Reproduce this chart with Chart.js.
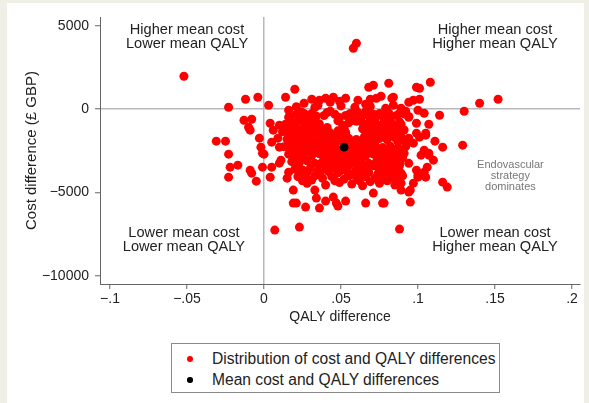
<!DOCTYPE html>
<html>
<head>
<meta charset="utf-8">
<script src="https://cdn.jsdelivr.net/npm/chart.js@4.4.1/dist/chart.umd.min.js"></script>
<style>
  body { margin: 0; background: #efefe6; }
  #frame { position: absolute; left: 7px; top: 3px; width: 577px; height: 400px; background: #fff; }
  #wrap { position: absolute; left: 0; top: 0; width: 589px; height: 403px; }
  #legend {
    position: absolute; left: 171px; top: 343px; width: 327px; height: 48px;
    border: 1px solid #8a8a8a; background: #fff;
    font: 15.6px "Liberation Sans", Arial, sans-serif; color: #222;
  }
  .item { position: absolute; left: 40px; height: 20px; line-height: 20px; white-space: nowrap; }
  .dot { position: absolute; border-radius: 50%; }
</style>
</head>
<body>
<div id="frame"></div>
<div id="wrap"><canvas id="ceChart" width="589" height="403"></canvas></div>
<div id="legend"></div>

<script>
// ========== Data (QALY difference, cost difference in £) ==========
const xTicks = [-0.1, -0.05, 0, 0.05, 0.1, 0.15, 0.2];
const yTicks = [-10000, -5000, 0, 5000];

const seriesLabels = ['Distribution of cost and QALY differences', 'Mean cost and QALY differences'];

// scattered replicates away from the main cloud
const outlierPairs = [
  [-0.052, 1980], [-0.023, 120], [-0.012, 600], [-0.004, 720], [0.003, 240], [0.014, 720], [0.020, 1200],
  [-0.013, -660], [-0.008, -600], [-0.010, -1080], [-0.009, -1260], [-0.031, -1920], [-0.025, -1920],
  [-0.023, -2700], [-0.022, -3480], [-0.017, -3360], [-0.023, -4080], [-0.009, -3660], [-0.008, -3840],
  [-0.005, -4320], [-0.001, -3480], [0.004, -4080], [0.007, -7260], [-0.003, -1740], [-0.002, -2280],
  [0.000, -2700], [-0.001, -2640], [0.004, -840], [0.006, -1260], [0.010, -960], [0.009, -1740],
  [0.005, -1980], [0.010, -2280], [0.018, -1560], [0.016, -2280], [0.005, -3480], [0.010, -3240],
  [0.011, -3060], [0.015, -4140], [0.016, -3780], [0.019, -4860], [0.019, -5640], [0.021, -5640],
  [0.023, -7080], [0.027, -5880], [0.034, -5340], [0.036, -5940], [0.040, -5520], [0.045, -5280],
  [0.047, -5640], [0.048, -5820], [0.053, -5520], [0.066, -5640], [0.077, -5640], [0.071, -5040],
  [0.033, -4860], [0.089, -4860], [0.094, -4980], [0.095, -5580], [0.088, -7200],
  [0.060, 3960], [0.058, 3660], [0.068, 1320], [0.071, 1440], [0.081, 1560], [0.099, 1320], [0.101, 1260],
  [0.108, 1620], [0.053, 660], [0.073, 660], [0.076, 780], [0.083, 660], [0.084, 720], [0.094, 420],
  [0.097, 540], [0.101, 600], [0.026, 360], [0.036, 540], [0.040, 660], [0.045, 720], [0.035, 240],
  [0.084, 240], [0.089, 60], [0.100, -60], [0.104, -240], [0.114, -360], [0.130, -120], [0.140, 360],
  [0.152, 600], [0.094, -480], [0.099, -840], [0.107, -900], [0.105, -1440], [0.099, -1440],
  [0.094, -1740], [0.111, -1920], [0.116, -2280], [0.129, -2160], [0.104, -2460], [0.097, -2040],
  [0.107, -2640], [0.105, -1560], [0.101, -1680], [0.078, -2880], [0.088, -3240], [0.081, -3240],
  [0.084, -3660], [0.086, -4080], [0.089, -4440], [0.097, -4440], [0.100, -3960], [0.105, -4080],
  [0.104, -3780], [0.099, -3660], [0.106, -3480], [0.110, -3060], [0.107, -2760], [0.102, -2760],
  [0.116, -4380], [0.119, -4680], [0.078, -5640], [0.100, -4080], [0.095, -4860]
];

// dense central cloud
const clusterPairs = [
  [0.021, 150], [0.033, 100], [0.050, 200], [0.059, 120], [0.069, 160], [0.079, 60], [0.092, -120],
  [0.031, 600], [0.049, 480], [0.061, 540], [0.066, 300], [0.016, -60], [0.016, -480],
  [0.043, 420], [0.069, 600],
  [0.043, -120], [0.024, -150], [0.066, -150],
  [0.031, -250], [0.041, -200], [0.046, -300], [0.056, -250], [0.061, -200], [0.071, -300], [0.081, -220],
  [0.091, -280], [0.026, -260],
  [0.021, -300], [0.039, -380], [0.062, -330], [0.075, -250], [0.088, -250],
  [0.017, -450], [0.024, -380], [0.029, -560], [0.034, -420], [0.049, -500], [0.053, -380], [0.058, -600],
  [0.063, -450], [0.067, -350], [0.072, -580], [0.077, -420], [0.082, -520], [0.086, -380], [0.094, -440],
  [0.022, -700], [0.032, -750], [0.048, -700], [0.060, -720], [0.078, -680], [0.088, -760],
  [0.018, -800], [0.028, -650], [0.057, -680], [0.064, -820], [0.069, -650], [0.083, -850],
  [0.014, -900], [0.020, -1000], [0.026, -850], [0.031, -980], [0.036, -880], [0.051, -950], [0.055, -820],
  [0.066, -1000], [0.070, -880], [0.075, -960], [0.080, -850], [0.085, -1020], [0.089, -900],
  [0.016, -1100], [0.025, -1150], [0.035, -1100], [0.052, -1150], [0.064, -1180], [0.073, -1100], [0.083, -1150],
  [0.021, -1200], [0.030, -1150], [0.041, -1100], [0.069, -1150], [0.079, -1180], [0.088, -1150],
  [0.012, -1350], [0.018, -1250], [0.023, -1400], [0.028, -1300], [0.033, -1380], [0.038, -1250], [0.043, -1420],
  [0.048, -1300], [0.053, -1380], [0.068, -1300], [0.072, -1420], [0.077, -1280], [0.082, -1400], [0.087, -1330], [0.091, -1250],
  [0.016, -1550], [0.026, -1600], [0.036, -1550], [0.046, -1600], [0.066, -1520], [0.074, -1600],
  [0.084, -1560],
  [0.021, -1600], [0.031, -1500], [0.041, -1650], [0.051, -1500], [0.070, -1600],
  [0.079, -1650], [0.089, -1650],
  [0.015, -1800], [0.020, -1750], [0.025, -1850], [0.030, -1720], [0.035, -1880], [0.040, -1780], [0.045, -1700],
  [0.050, -1850], [0.055, -1750], [0.060, -1820], [0.065, -1700], [0.070, -1880], [0.075, -1760], [0.080, -1840],
  [0.085, -1720], [0.090, -1800],
  [0.017, -1950], [0.027, -1950], [0.037, -2000], [0.047, -1950], [0.057, -1950], [0.067, -1980],
  [0.087, -1950],
  [0.022, -2000], [0.032, -2080], [0.042, -2000], [0.052, -2100], [0.062, -2020], [0.072, -2080],
  [0.092, -2060],
  [0.013, -2250], [0.018, -2300], [0.023, -2200], [0.028, -2320], [0.033, -2180], [0.038, -2280], [0.043, -2220],
  [0.047, -2350], [0.057, -2200], [0.062, -2320], [0.067, -2240], [0.072, -2180], [0.077, -2300], [0.082, -2220],
  [0.087, -2350], [0.092, -2250],
  [0.024, -2400], [0.034, -2400], [0.044, -2420], [0.054, -2380], [0.064, -2420], [0.074, -2400],
  [0.084, -2400],
  [0.019, -2500], [0.029, -2450], [0.039, -2520], [0.049, -2480], [0.059, -2500], [0.069, -2450], [0.079, -2520],
  [0.089, -2480],
  [0.016, -2700], [0.021, -2750], [0.026, -2650], [0.031, -2780], [0.036, -2680], [0.041, -2720], [0.046, -2800],
  [0.051, -2650], [0.056, -2750], [0.061, -2680], [0.066, -2800], [0.071, -2700], [0.076, -2620], [0.081, -2780],
  [0.086, -2700], [0.091, -2650],
  [0.025, -2850], [0.045, -2900], [0.055, -2850], [0.075, -2850],
  [0.085, -2850],
  [0.020, -2950], [0.040, -2980], [0.050, -2920], [0.060, -2960], [0.080, -2980], [0.090, -2920],
  [0.018, -3150], [0.023, -3200], [0.028, -3100], [0.033, -3250], [0.038, -3150], [0.043, -3080], [0.048, -3220],
  [0.053, -3120], [0.058, -3200], [0.063, -3100], [0.068, -3250], [0.073, -3150], [0.078, -3080], [0.083, -3200],
  [0.088, -3120], [0.094, -3250],
  [0.036, -3300], [0.046, -3350], [0.051, -3400], [0.061, -3350], [0.071, -3400],
  [0.082, -3350],
  [0.021, -3400], [0.041, -3420], [0.055, -3380], [0.067, -3420], [0.077, -3350], [0.088, -3400],
  [0.020, -3600], [0.025, -3650], [0.030, -3550], [0.035, -3700], [0.040, -3600], [0.045, -3520], [0.050, -3680],
  [0.060, -3600], [0.065, -3550], [0.075, -3600], [0.080, -3650], [0.086, -3550],
  [0.028, -3780], [0.042, -3750], [0.054, -3750], [0.057, -3880], [0.068, -3800], [0.079, -3800], [0.089, -3850],
  [0.024, -3850], [0.036, -3880], [0.048, -3820], [0.063, -3850], [0.074, -3880], [0.085, -3820],
  [0.022, -4050], [0.027, -4100], [0.033, -4000], [0.038, -4150], [0.044, -4050], [0.055, -4000], [0.060, -4100],
  [0.066, -4050], [0.072, -4150], [0.077, -4000], [0.083, -4100], [0.090, -4000],
  [0.025, -4300], [0.031, -4250], [0.046, -4300], [0.052, -4200], [0.062, -4300], [0.069, -4350], [0.080, -4300], [0.087, -4250],
  [0.028, -4450], [0.040, -4550], [0.049, -4400], [0.057, -4500], [0.064, -4600], [0.075, -4450], [0.085, -4550]
];

const meanQaly = [0.052];
const meanCost = [-2280];

// ========== Helpers ==========
const FONT = '"Liberation Sans", Arial, sans-serif';
const RED = '#ff0000';

function fmtX(v) {
  if (v === 0) return '0';
  return (v < 0 ? '\u2212' : '') + String(Math.abs(v)).replace(/^0/, '');
}
function fmtY(v) {
  return v < 0 ? '\u2212' + Math.abs(v) : String(v);
}

const quadrantNotes = {
  id: 'quadrantNotes',
  afterDraw(chart) {
    const { ctx, scales: { x, y } } = chart;
    ctx.save();
    ctx.textAlign = 'center';
    ctx.textBaseline = 'middle';
    ctx.font = '14.6px ' + FONT;
    ctx.fillStyle = '#222';
    const notes = [
      [-0.05, 4740, ['Higher mean cost', 'Lower mean QALY']],
      [0.15, 4740, ['Higher mean cost', 'Higher mean QALY']],
      [-0.052, -7450, ['Lower mean cost', 'Lower mean QALY']],
      [0.15, -7450, ['Lower mean cost', 'Higher mean QALY']]
    ];
    notes.forEach(([qx, cy, lines]) => {
      const px = x.getPixelForValue(qx);
      const py = y.getPixelForValue(cy);
      lines.forEach((t, i) => ctx.fillText(t, px, py + i * 14));
    });
    // dominance note
    ctx.font = '11px ' + FONT;
    ctx.fillStyle = '#777';
    const dx = x.getPixelForValue(0.160);
    const dy = y.getPixelForValue(-3360);
    ['Endovascular', 'strategy', 'dominates'].forEach((t, i) => ctx.fillText(t, dx, dy + i * 11));
    ctx.restore();
  }
};

// ========== Chart ==========
const chart = new Chart(document.getElementById('ceChart'), {
  type: 'scatter',
  data: {
    datasets: [
      {
        label: seriesLabels[1],
        data: meanQaly.map((q, i) => ({ x: q, y: meanCost[i] })),
        backgroundColor: '#000',
        borderWidth: 0,
        pointRadius: 4.4,
        order: 0
      },
      {
        label: seriesLabels[0],
        data: outlierPairs.concat(clusterPairs).map(([q, c]) => ({ x: q, y: c })),
        backgroundColor: RED,
        borderWidth: 0,
        pointRadius: 4.5,
        order: 1
      }
    ]
  },
  options: {
    responsive: false,
    animation: false,
    devicePixelRatio: 1,
    layout: { padding: { left: 0, top: 17, right: 9, bottom: 69 } },
    plugins: { legend: { display: false }, tooltip: { enabled: false } },
    scales: {
      x: {
        type: 'linear',
        min: -0.1065,
        max: 0.2052,
        afterBuildTicks: s => { s.ticks = xTicks.map(v => ({ value: v })); },
        afterFit: s => { s.height = 50; },
        border: { display: true, color: '#666', width: 1 },
        grid: {
          color: c => (c.tick && c.tick.value === 0 ? '#b8b8b8' : 'rgba(0,0,0,0)'),
          lineWidth: 1.5,
          tickColor: '#666',
          tickWidth: 1,
          tickLength: 5
        },
        ticks: {
          color: '#222',
          padding: 2,
          maxRotation: 0,
          font: { family: FONT, size: 14 },
          callback: v => fmtX(v)
        },
        title: {
          display: true,
          text: 'QALY difference',
          color: '#222',
          font: { family: FONT, size: 14 },
          padding: { top: 0, bottom: 8 }
        }
      },
      y: {
        type: 'linear',
        min: -10500,
        max: 5540,
        afterBuildTicks: s => { s.ticks = yTicks.map(v => ({ value: v })); },
        afterFit: s => { s.width = 100; },
        border: { display: true, color: '#666', width: 1 },
        grid: {
          color: c => (c.tick && c.tick.value === 0 ? '#b8b8b8' : 'rgba(0,0,0,0)'),
          lineWidth: 1.5,
          tickColor: '#666',
          tickWidth: 1,
          tickLength: 5
        },
        ticks: {
          color: '#222',
          padding: 6,
          font: { family: FONT, size: 14 },
          callback: v => fmtY(v)
        },
        title: {
          display: true,
          text: 'Cost difference (\u00a3 GBP)',
          color: '#222',
          font: { family: FONT, size: 15 },
          padding: { top: 23, bottom: 0 }
        }
      }
    }
  },
  plugins: [quadrantNotes]
});

// ========== Legend ==========
function renderLegend() {
  const box = document.getElementById('legend');
  const entries = [
    { label: seriesLabels[0], color: RED, r: 3 },
    { label: seriesLabels[1], color: '#000', r: 2.7 }
  ];
  box.innerHTML = entries.map((e, i) => {
    const cy = 5 + i * 21;
    return `
      <div class="dot" style="left:${18 - e.r}px;top:${cy + 10 - e.r}px;width:${e.r * 2}px;height:${e.r * 2}px;background:${e.color}"></div>
      <div class="item" style="top:${cy}px">${e.label}</div>
    `;
  }).join('');
}
renderLegend();
</script>
</body>
</html>
